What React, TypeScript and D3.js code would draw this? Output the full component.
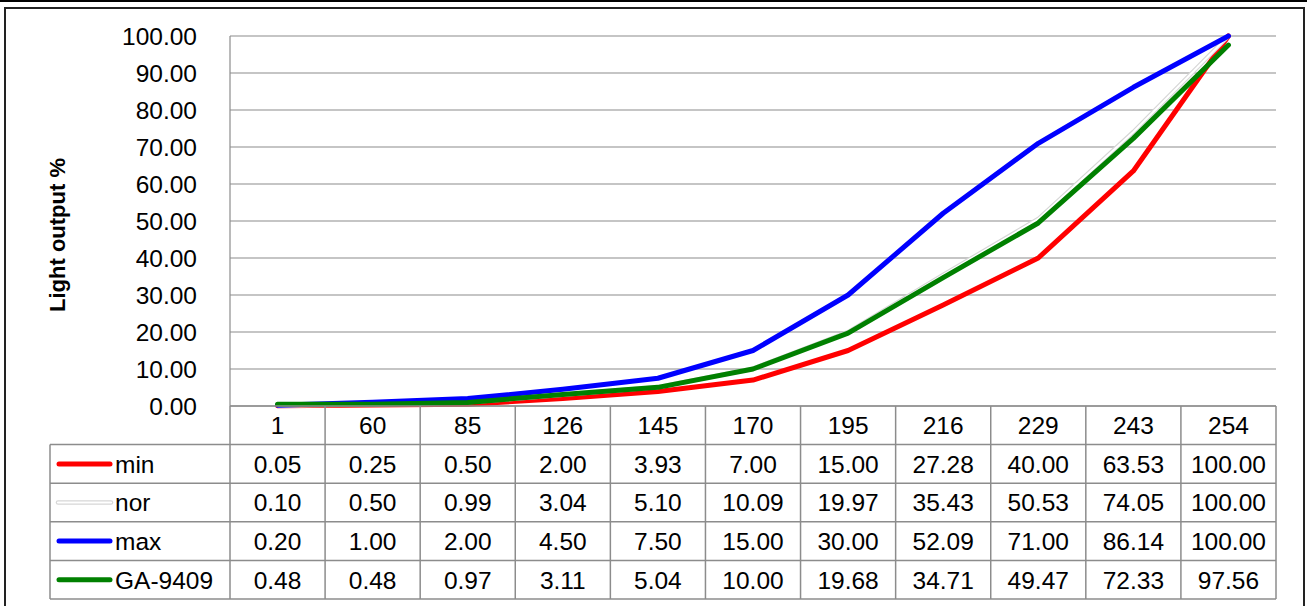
import React from "react";
import * as d3 from "d3";

const categories = ["1", "60", "85", "126", "145", "170", "195", "216", "229", "243", "254"];
const seriesNames = ["min", "nor", "max", "GA-9409"];
const minValues = [0.05, 0.25, 0.5, 2.0, 3.93, 7.0, 15.0, 27.28, 40.0, 63.53, 100.0];
const norValues = [0.1, 0.5, 0.99, 3.04, 5.1, 10.09, 19.97, 35.43, 50.53, 74.05, 100.0];
const maxValues = [0.2, 1.0, 2.0, 4.5, 7.5, 15.0, 30.0, 52.09, 71.0, 86.14, 100.0];
const gaValues = [0.48, 0.48, 0.97, 3.11, 5.04, 10.0, 19.68, 34.71, 49.47, 72.33, 97.56];
const yTicks = [0, 10, 20, 30, 40, 50, 60, 70, 80, 90, 100];

const W = 1307;
const H = 606;
const plotL = 230;
const plotR = 1276;
const plotT = 36;
const plotB = 406;
const tableL = 50;
const tableB = 599;
const font = "'Liberation Sans', Arial, sans-serif";
const fs = 24.5;

export default function App() {
  const x = d3.scaleBand<string>().domain(categories).range([plotL, plotR]).padding(0);
  const y = d3.scaleLinear().domain([0, 100]).range([plotB, plotT]);
  const line = d3
    .line<number>()
    .x((_, i) => (x(categories[i]) as number) + x.bandwidth() / 2)
    .y((d) => y(d));

  const series = [
    { name: seriesNames[0], values: minValues, color: "#ff0000" },
    { name: seriesNames[1], values: norValues, color: "nor" },
    { name: seriesNames[2], values: maxValues, color: "#0000ff" },
    { name: seriesNames[3], values: gaValues, color: "#008000" },
  ];

  const rowH = (tableB - plotB) / 5;
  const rowTop = (r: number) => plotB + r * rowH;
  const gridColor = "#8c8c8c";

  return (
    <svg
      width={W}
      height={H}
      style={{ position: "absolute", left: 0, top: 0, display: "block", background: "#fff" }}
      fontFamily={font}
    >
      <rect x={0} y={0} width={W} height={2} fill="#000" />
      <rect x={5} y={8} width={1299} height={H} fill="#fff" stroke="#222" strokeWidth={2} />

      {/* gridlines */}
      {yTicks.map((t) => (
        <line key={t} x1={plotL} x2={plotR} y1={y(t)} y2={y(t)} stroke={gridColor} strokeWidth={1.2} />
      ))}
      <line x1={plotL} x2={plotL} y1={plotT} y2={plotB} stroke={gridColor} strokeWidth={1.2} />

      {/* y tick labels */}
      {yTicks.map((t) => (
        <text key={t} x={197} y={y(t)} dy="0.36em" textAnchor="end" fontSize={fs} fill="#000">
          {t.toFixed(2)}
        </text>
      ))}

      <text
        transform={`translate(65,235) rotate(-90)`}
        textAnchor="middle"
        fontSize={22}
        fontWeight="bold"
        fill="#000"
      >
        Light output %
      </text>

      {/* lines */}
      {series.map((s) =>
        s.color === "nor" ? (
          <g key={s.name}>
            <path d={line(s.values) as string} fill="none" stroke="#d6d6d6" strokeWidth={4.5} strokeLinejoin="round" />
            <path d={line(s.values) as string} fill="none" stroke="#ffffff" strokeWidth={2.2} strokeLinejoin="round" />
          </g>
        ) : (
          <path
            key={s.name}
            d={line(s.values) as string}
            fill="none"
            stroke={s.color}
            strokeWidth={5}
            strokeLinejoin="round"
            strokeLinecap="round"
          />
        )
      )}

      {/* table header row */}
      {categories.map((c) => (
        <text
          key={c}
          x={(x(c) as number) + x.bandwidth() / 2}
          y={rowTop(0) + rowH / 2}
          dy="0.36em"
          textAnchor="middle"
          fontSize={fs}
          fill="#000"
        >
          {c}
        </text>
      ))}
      <line x1={plotL} x2={plotR} y1={plotB} y2={plotB} stroke={gridColor} strokeWidth={1.5} />
      {[1, 2, 3, 4, 5].map((r) => (
        <line key={r} x1={tableL} x2={plotR} y1={rowTop(r)} y2={rowTop(r)} stroke={gridColor} strokeWidth={1.5} />
      ))}
      <line x1={tableL} x2={tableL} y1={rowTop(1)} y2={tableB} stroke={gridColor} strokeWidth={1.5} />
      {categories.map((c) => (
        <line
          key={c}
          x1={x(c) as number}
          x2={x(c) as number}
          y1={plotB}
          y2={tableB}
          stroke={gridColor}
          strokeWidth={1.5}
        />
      ))}
      <line x1={plotR} x2={plotR} y1={plotB} y2={tableB} stroke={gridColor} strokeWidth={1.5} />

      {series.map((s, r) => {
        const cy = rowTop(r + 1) + rowH / 2;
        return (
          <g key={s.name}>
            {s.color === "nor" ? (
              <g>
                <line x1={58} x2={111} y1={cy} y2={cy} stroke="#d6d6d6" strokeWidth={4.5} strokeLinecap="round" />
                <line x1={58} x2={111} y1={cy} y2={cy} stroke="#fff" strokeWidth={2.2} strokeLinecap="round" />
              </g>
            ) : (
              <line x1={59} x2={110} y1={cy} y2={cy} stroke={s.color} strokeWidth={5} strokeLinecap="round" />
            )}
            <text x={115} y={cy} dy="0.36em" fontSize={fs} fill="#000">
              {s.name}
            </text>
            {s.values.map((v, i) => (
              <text
                key={i}
                x={(x(categories[i]) as number) + x.bandwidth() / 2}
                y={cy}
                dy="0.36em"
                textAnchor="middle"
                fontSize={fs}
                fill="#000"
              >
                {v.toFixed(2)}
              </text>
            ))}
          </g>
        );
      })}
    </svg>
  );
}
